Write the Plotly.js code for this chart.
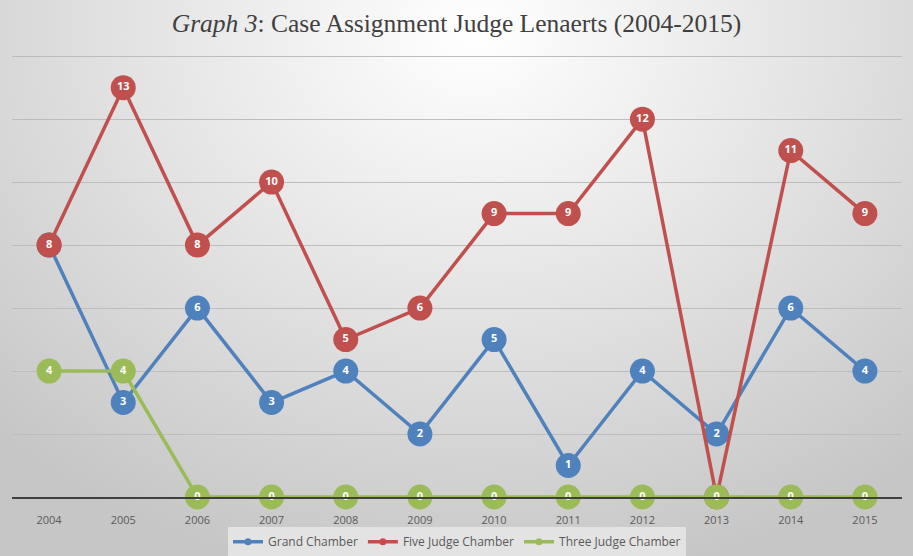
<!DOCTYPE html>
<html>
<head>
<meta charset="utf-8">
<script src="https://cdn.plot.ly/plotly-3.0.1.min.js"></script>
<style>
html,body{margin:0;padding:0;}
#chart{width:913px;height:556px;background:radial-gradient(ellipse 75% 100% at 52% 6%, #ffffff 0%, #f3f3f3 22%, #e2e2e2 52%, #c6c6c6 100%);}
</style>
</head>
<body>
<div id="chart"></div>
<script>
var years = ['2004','2005','2006','2007','2008','2009','2010','2011','2012','2013','2014','2015'];
var grandChamber = [8,3,6,3,4,2,5,1,4,2,6,4];
var fiveJudge = [8,13,8,10,5,6,9,9,12,0,11,9];
var threeJudge = [4,4,0,0,0,0,0,0,0,0,0,0];
var seriesNames = ['Grand Chamber','Five Judge Chamber','Three Judge Chamber'];
var colors = ['#4f81bd','#c0504d','#9bbb59'];
var seriesData = [grandChamber, fiveJudge, threeJudge];

var traces = [];
seriesData.forEach(function(vals, i){
  traces.push({
    x: years, y: vals, type: 'scatter', mode: 'lines+markers+text',
    text: vals.map(String), textposition: 'middle center',
    textfont: {family: 'Open Sans', size: 11, color: '#ffffff', weight: 'bold'},
    line: {color: colors[i], width: 3.5},
    marker: {color: colors[i], size: 25},
    showlegend: false, hoverinfo: 'skip', cliponaxis: false
  });
});
seriesData.forEach(function(vals, i){
  traces.push({
    x: [null], y: [null], type: 'scatter', mode: 'lines+markers',
    name: seriesNames[i],
    line: {color: colors[i], width: 3.5},
    marker: {color: colors[i], size: 7}
  });
});

var layout = {
  width: 913, height: 556,
  paper_bgcolor: 'rgba(0,0,0,0)', plot_bgcolor: 'rgba(0,0,0,0)',
  margin: {l: 12, r: 11, t: 53, b: 59, autoexpand: false},
  title: {text: '<i>Graph 3</i>: Case Assignment Judge Lenaerts (2004-2015)',
    font: {family: 'Liberation Serif', size: 25.5, color: '#404040'},
    x: 0.5, xanchor: 'center', y: 0.958, yanchor: 'middle'},
  xaxis: {type: 'category', range: [-0.5, 11.5], showgrid: false, showline: true, linecolor: '#404040', linewidth: 2,
    ticks: 'outside', ticklen: 12, tickcolor: 'rgba(0,0,0,0)',
    tickfont: {family: 'Open Sans', size: 11, color: '#595959'}, fixedrange: true},
  yaxis: {range: [0, 14.1], dtick: 2, showticklabels: false, gridcolor: '#bdbdbd', gridwidth: 1,
    zeroline: false, ticks: '', fixedrange: true},
  showlegend: true,
  legend: {orientation: 'h', x: 0.5, xanchor: 'center', y: -0.068, yanchor: 'top',
    bgcolor: '#e3e3e3', font: {family: 'Open Sans', size: 12, color: '#595959'},
    itemwidth: 30, traceorder: 'normal'}
};
Plotly.newPlot('chart', traces, layout, {displayModeBar: false, staticPlot: true});
</script>
</body>
</html>
